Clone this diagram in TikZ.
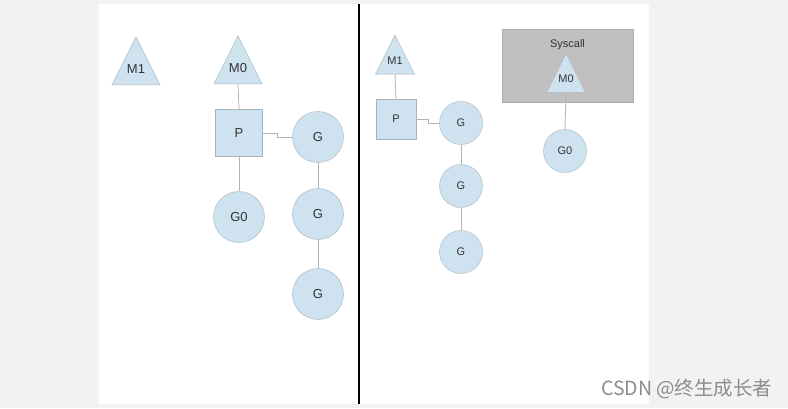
\documentclass[tikz,border=0pt]{standalone}
\usepackage{fontspec}
\setmainfont{Liberation Sans}
\newfontfamily\cjkfont{Noto Sans CJK SC}
\usetikzlibrary{shapes.geometric,positioning}
\definecolor{nodefill}{HTML}{CFE2F0}
\definecolor{nodeline}{HTML}{A8B4BC}
\definecolor{linkgray}{HTML}{B4B4B4}
\definecolor{pagegray}{HTML}{F2F2F2}
\definecolor{sysgray}{HTML}{C0C0C0}
\definecolor{textdark}{HTML}{333333}

\begin{document}
\begin{tikzpicture}[
  x=1pt, y=-1pt,
  every node/.style={text=textdark, font=\fontsize{13}{13}\selectfont},
  mtri/.style={draw=nodeline, fill=nodefill, isosceles triangle, shape border rotate=90,
    isosceles triangle stretches, inner sep=0pt, minimum width=#1, minimum height=#1},
  pbox/.style={draw=nodeline, fill=nodefill, rectangle, minimum size=#1, inner sep=0pt},
  gball/.style={draw=nodeline, fill=nodefill, circle, minimum size=#1, inner sep=0pt},
  link/.style={draw=linkgray, line width=0.8pt},
  small/.style={font=\fontsize{11}{11}\selectfont}
]
\useasboundingbox (0,0) rectangle (788,408);
\fill[pagegray] (0,0) rectangle (788,408);
\fill[white] (99,4) rectangle (649,404);
\draw[black, line width=1.3pt] (359,4) -- (359,404);

% ---------- Left panel ----------
\node[mtri=48pt] (m1) at (136,70) {};
\node[yshift=1pt] (m1label) at (m1.center) {M1};
\node[mtri=48pt] (m0) at (238,69) {};
\node[yshift=1pt] (m0label) at (m0.center) {M0};
\node[pbox=47pt] (p) at (239,133) {P};
\node[gball=51pt] (g1) at (318,137) {G};
\node[gball=51pt] (g2) at (318,214) {G};
\node[gball=51pt] (g3) at (318,294) {G};
\node[gball=51pt] (g0) at (239,217) {G0};

\draw[link] (m0.south) -- (p.north);
\draw[link] (p.east) -- ++(15,0) |- (g1.west);
\draw[link] (p.south) -- (g0.north);
\draw[link] (g1) -- (g2);
\draw[link] (g2) -- (g3);

% ---------- Right panel ----------
\node[draw=sysgray!90!black, fill=sysgray, minimum width=131pt, minimum height=73pt, inner sep=0pt] (sys) at (567.5,65.5) {};
\node[small, anchor=north] (syslabel) at (sys.north) [yshift=-7.5pt] {Syscall};

\node[mtri=39pt] (rm1) at (395,62) {};
\node[small, yshift=1pt] (rm1label) at (rm1.center) {M1};
\node[pbox=40pt, small] (rp) at (396,119) {P};
\node[gball=43pt, small] (rg1) at (461,123) {G};
\node[gball=43pt, small] (rg2) at (461,186) {G};
\node[gball=43pt, small] (rg3) at (461,252) {G};

\node[mtri=39pt] (rm0) at (566,80.5) {};
\node[small, yshift=1.5pt] (rm0label) at (rm0.center) {M0};
\node[gball=43pt, small] (rg0) at (565,151) {G0};

\draw[link] (rm1.south) -- (rp.north);
\draw[link] (rp.east) -- ++(12,0) |- (rg1.west);
\draw[link] (rg1) -- (rg2);
\draw[link] (rg2) -- (rg3);
\draw[link] (rm0.south) -- (rg0.north);

% ---------- Watermark ----------
\node[text=black!45, font=\cjkfont\fontsize{19.5}{19.5}\selectfont, anchor=east] (mark) at (776,389) {CSDN @终生成长者};
\end{tikzpicture}
\end{document}
